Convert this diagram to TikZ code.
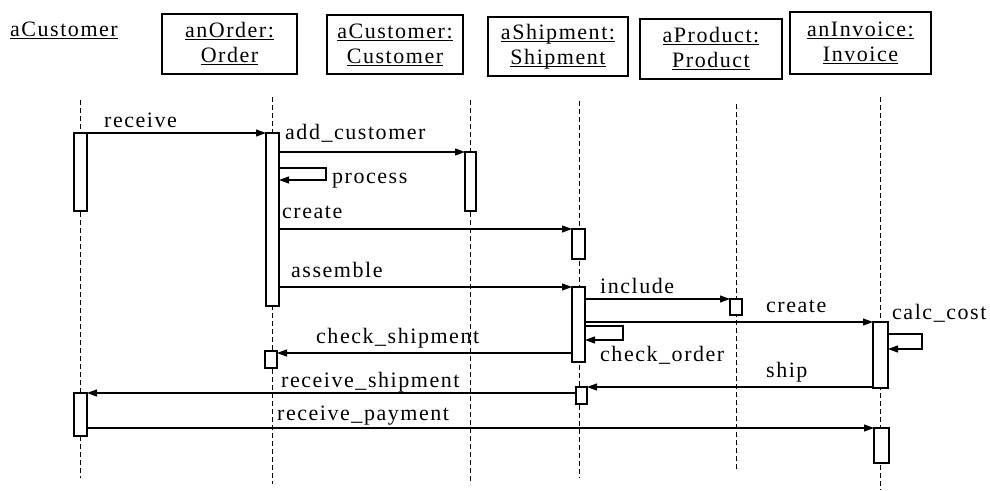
\documentclass[tikz,border=0pt]{standalone}
\usepackage{fontspec}
\setmainfont{Liberation Serif}[LetterSpace=7]
\usetikzlibrary{arrows.meta}
\usetikzlibrary{calc}

% underlined object name
\newcommand{\ulbox}[1]{\setbox0\hbox{#1}\rlap{\rule[-2.5pt]{\wd0}{0.9pt}}\box0}

\begin{document}
\begin{tikzpicture}[x=1pt, y=-1pt,
    every node/.style={font=\fontsize{22}{25}\selectfont},
    obj/.style={draw, line width=1.1pt, align=center, inner sep=0pt, outer sep=0pt},
    act/.style={draw, fill=white, line width=1.2pt, inner sep=0pt, outer sep=0pt, anchor=north},
    life/.style={dash pattern=on 5pt off 3pt, line width=0.9pt},
    msg/.style={line width=1.1pt, -{Triangle[length=10pt,width=7pt]}},
    lbl/.style={anchor=base west, inner sep=0pt}]
    \useasboundingbox (0,0) rectangle (990,490);

    % Lifelines
    \foreach \x/\ya/\yb in {80.5/100/478, 272.5/97/484, 470.5/100/484, 579/101/478, 736/104/469, 880.5/97/490}
        \draw[life] (\x,\ya) -- (\x,\yb);

    % Objects
    \node[lbl] (cust) at (10,36) {\ulbox{aCustomer}};
    \node[obj, minimum width=135pt, minimum height=60pt] (order) at (229.5,44) {\ulbox{anOrder:}\\\ulbox{Order}};
    \node[obj, minimum width=136pt, minimum height=59pt] (customer) at (395,44.5) {\ulbox{aCustomer:}\\\ulbox{Customer}};
    \node[obj, minimum width=140pt, minimum height=59pt] (shipment) at (558,46.5) {\ulbox{aShipment:}\\\ulbox{Shipment}};
    \node[obj, minimum width=142pt, minimum height=60pt] (product) at (711,49) {\ulbox{aProduct:}\\\ulbox{Product}};
    \node[obj, minimum width=141pt, minimum height=62pt] (invoice) at (860.5,43) {\ulbox{anInvoice:}\\\ulbox{Invoice}};

    % Activations
    \node[act, minimum width=13pt, minimum height=78pt] (ca1) at (80.5,133) {};
    \node[act, minimum width=13pt, minimum height=43pt] (ca2) at (80.5,393) {};
    \node[act, minimum width=13pt, minimum height=173pt] (oa1) at (272.5,133) {};
    \node[act, minimum width=12pt, minimum height=17pt] (oa2) at (271,351) {};
    \node[act, minimum width=11pt, minimum height=59pt] (cu1) at (470.5,152) {};
    \node[act, minimum width=13pt, minimum height=30pt] (sh1) at (578.5,229) {};
    \node[act, minimum width=13pt, minimum height=75pt] (sh2) at (578.5,287) {};
    \node[act, minimum width=11pt, minimum height=17pt] (sh3) at (581.5,387) {};
    \node[act, minimum width=12pt, minimum height=16pt] (pr1) at (736,299) {};
    \node[act, minimum width=15pt, minimum height=66pt] (in1) at (880.5,322) {};
    \node[act, minimum width=15pt, minimum height=35pt] (in2) at (881.5,428) {};

    % Messages
    \draw[msg] (ca1.north east) -- (oa1.north west);
    \draw[msg] (oa1.east |- cu1.north) -- (cu1.north west);
    \draw[msg] ($(oa1.north east)+(0,35)$) -- ++(47,0) -- ++(0,12) -- ++(-47,0);
    \draw[msg] (oa1.east |- sh1.north) -- (sh1.north west);
    \draw[msg] (oa1.east |- sh2.north) -- (sh2.north west);
    \draw[msg] (sh2.east |- pr1.north) -- (pr1.north west);
    \draw[msg] (sh2.east |- in1.north) -- (in1.north west);
    \draw[msg] ($(in1.north east)+(0,12)$) -- ++(34,0) -- ++(0,15) -- ++(-34,0);
    \draw[msg] ($(sh2.north east)+(0,39)$) -- ++(38,0) -- ++(0,14) -- ++(-38,0);
    \draw[msg] ($(sh2.west |- oa2.north)+(0,2)$) -- ($(oa2.north east)+(0,2)$);
    \draw[msg] (in1.west |- sh3.north) -- (sh3.north east);
    \draw[msg] (sh3.west |- ca2.north) -- (ca2.north east);
    \draw[msg] (ca2.east |- in2.north) -- (in2.north west);

    % Message labels
    \node[lbl] (l-receive) at (104,127) {receive};
    \node[lbl] (l-addcust) at (285,139) {add\_customer};
    \node[lbl] (l-process) at (332,183) {process};
    \node[lbl] (l-create) at (282,218) {create};
    \node[lbl] (l-assemble) at (291,277) {assemble};
    \node[lbl] (l-include) at (600,293) {include};
    \node[lbl] (l-create2) at (766,312) {create};
    \node[lbl] (l-calccost) at (892,319) {calc\_cost};
    \node[lbl] (l-checkorder) at (600,361) {check\_order};
    \node[lbl] (l-checkship) at (316,343) {check\_shipment};
    \node[lbl] (l-ship) at (766,377) {ship};
    \node[lbl] (l-recship) at (281,387) {receive\_shipment};
    \node[lbl] (l-recpay) at (277,420) {receive\_payment};
\end{tikzpicture}
\end{document}
